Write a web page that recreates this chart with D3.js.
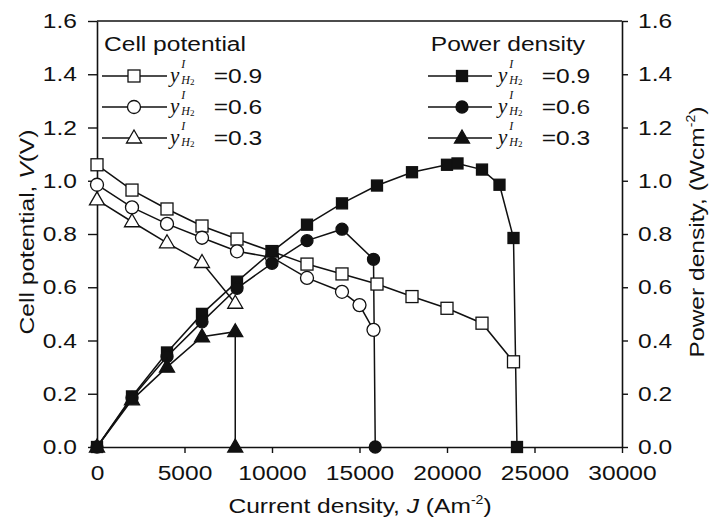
<!DOCTYPE html>
<html><head><meta charset="utf-8">
<script src="https://cdn.jsdelivr.net/npm/d3@7"></script>
<style>
body{margin:0;background:#fff}
svg{display:block}
.t{font-family:"Liberation Sans",Arial,Helvetica,sans-serif;font-size:21px;fill:#111;transform-box:fill-box;transform:scaleX(1.17)}
.tm{transform-origin:center}
.te{transform-origin:right center}
.ts{transform-origin:left center}
.serif{font-family:"Liberation Serif","Times New Roman",serif;font-style:italic;fill:#111}
</style></head><body>
<svg id="c" width="714" height="528"></svg>
<script>
// ---- data ----
const xTicks = [0, 5000, 10000, 15000, 20000, 25000, 30000];
const yTicks = [0, 0.2, 0.4, 0.6, 0.8, 1.0, 1.2, 1.4, 1.6];
const fractions = ["0.9", "0.6", "0.3"];

// Cell potential (V), left axis
const J_cp09 = [0, 2000, 4000, 6000, 8000, 10000, 12000, 14000, 16000, 18000, 20000, 22000, 23800];
const V_cp09 = [1.06, 0.965, 0.894, 0.83, 0.781, 0.734, 0.687, 0.65, 0.612, 0.565, 0.521, 0.465, 0.32];
const J_cp06 = [0, 2000, 4000, 6000, 8000, 10000, 12000, 14000, 15000, 15800];
const V_cp06 = [0.985, 0.90, 0.838, 0.786, 0.735, 0.712, 0.635, 0.583, 0.533, 0.44];
const J_cp03 = [0, 2000, 4000, 6000, 7900];
const V_cp03 = [0.928, 0.846, 0.767, 0.693, 0.54];

// Power density (W cm^-2), right axis
const J_pd09 = [0, 2000, 4000, 6000, 8000, 10000, 12000, 14000, 16000, 18000, 20000, 20600, 22000, 23000, 23800, 24000];
const P_pd09 = [0, 0.19, 0.355, 0.50, 0.621, 0.734, 0.835, 0.915, 0.982, 1.032, 1.06, 1.065, 1.042, 0.985, 0.785, 0];
const J_pd06 = [0, 2000, 4000, 6000, 8000, 10000, 12000, 14000, 15800, 15900];
const P_pd06 = [0, 0.185, 0.34, 0.47, 0.596, 0.69, 0.775, 0.818, 0.705, 0];
const J_pd03 = [0, 2000, 4000, 6000, 7900, 7900];
const P_pd03 = [0, 0.177, 0.30, 0.414, 0.433, 0];

// ---- chart ----
const svg = d3.select("#c");
const L = 97, R = 622, T = 21, B = 447;
const x = d3.scaleLinear().domain([0, 30000]).range([L, R]);
const yL = d3.scaleLinear().domain([0, 1.6]).range([B, T]);
const yR = d3.scaleLinear().domain([0, 1.6]).range([B, T]);
const fmt = d3.format(".1f");

// axes
const gL = svg.append("g").attr("transform", `translate(${L},0)`)
  .call(d3.axisLeft(yL).tickValues(yTicks).tickFormat(fmt).tickSize(9).tickPadding(11).tickSizeOuter(0));
gL.selectAll("text").attr("class", "t te");
const gR = svg.append("g").attr("transform", `translate(${R},0)`)
  .call(d3.axisRight(yR).tickValues(yTicks).tickFormat(fmt).tickSize(6).tickPadding(10).tickSizeOuter(0));
gR.selectAll("text").attr("class", "t ts");
const gB = svg.append("g").attr("transform", `translate(0,${B})`)
  .call(d3.axisBottom(x).tickValues(xTicks).tickFormat(d3.format("d")).tickSize(6).tickPadding(12).tickSizeOuter(0));
gB.selectAll("text").attr("class", "t tm");
[gL, gR, gB].forEach(g => {
  g.selectAll("line").attr("stroke", "#111").attr("stroke-width", 1.4);
  g.select(".domain").attr("stroke", "#111").attr("stroke-width", 1.6);
});
svg.append("line").attr("x1", L).attr("x2", R).attr("y1", T).attr("y2", T)
  .attr("stroke", "#111").attr("stroke-width", 1.6);

// axis titles
const xt = svg.append("text").attr("class", "t tm").attr("x", 360).attr("y", 513).attr("text-anchor", "middle");
xt.append("tspan").text("Current density, ");
xt.append("tspan").attr("font-style", "italic").text("J");
xt.append("tspan").text(" (Am");
xt.append("tspan").attr("font-size", "12px").attr("dy", -9).text("-2");
xt.append("tspan").attr("dy", 9).text(")");

const ylt = svg.append("g").attr("transform", "translate(34,232) rotate(-90)")
  .append("text").attr("class", "t tm").attr("text-anchor", "middle");
ylt.append("tspan").text("Cell potential, ");
ylt.append("tspan").attr("font-style", "italic").text("V");
ylt.append("tspan").text("(V)");

const yrt = svg.append("g").attr("transform", "translate(704,232) rotate(-90)")
  .append("text").attr("class", "t tm").attr("text-anchor", "middle");
yrt.append("tspan").text("Power density, (Wcm");
yrt.append("tspan").attr("font-size", "12px").attr("dy", -9).text("-2");
yrt.append("tspan").attr("dy", 9).text(")");

// markers
function drawMarker(g, shape, filled, cx, cy) {
  const fill = filled ? "#111" : "#fff";
  if (shape === "square") {
    const s = filled ? 11 : 12, h = s / 2;
    g.append("rect").attr("x", cx - h).attr("y", cy - h).attr("width", s).attr("height", s)
      .attr("fill", fill).attr("stroke", "#111").attr("stroke-width", 1.3);
  } else if (shape === "circle") {
    g.append("circle").attr("cx", cx).attr("cy", cy).attr("r", filled ? 6 : 6.5)
      .attr("fill", fill).attr("stroke", "#111").attr("stroke-width", 1.3);
  } else {
    g.append("path").attr("d", `M${cx},${cy - 8}L${cx + 7.5},${cy + 5}L${cx - 7.5},${cy + 5}Z`)
      .attr("fill", fill).attr("stroke", "#111").attr("stroke-width", 1.3);
  }
}

const series = [
  {J: J_cp09, v: V_cp09, y: yL, shape: "square", filled: false},
  {J: J_cp06, v: V_cp06, y: yL, shape: "circle", filled: false},
  {J: J_cp03, v: V_cp03, y: yL, shape: "triangle", filled: false},
  {J: J_pd09, v: P_pd09, y: yR, shape: "square", filled: true},
  {J: J_pd06, v: P_pd06, y: yR, shape: "circle", filled: true},
  {J: J_pd03, v: P_pd03, y: yR, shape: "triangle", filled: true}
];

const plot = svg.append("g");
series.forEach(s => {
  const pts = s.J.map((j, i) => [x(j), s.y(s.v[i])]);
  plot.append("path").attr("d", d3.line()(pts)).attr("fill", "none")
    .attr("stroke", "#111").attr("stroke-width", 1.5);
});
series.forEach(s => {
  const g = plot.append("g");
  s.J.forEach((j, i) => drawMarker(g, s.shape, s.filled, x(j), s.y(s.v[i])));
});

// legends
function legendLabel(g, xy, xeq, ry, frac) {
  const t = g.append("text").attr("class", "serif").attr("x", xy).attr("y", ry + 6).attr("font-size", "21px");
  t.append("tspan").text("y");
  t.append("tspan").attr("font-size", "12px").attr("dx", 2).attr("dy", -14).text("I");
  t.append("tspan").attr("font-size", "12px").attr("dx", -4).attr("dy", 16).text("H");
  t.append("tspan").attr("font-size", "9px").attr("font-style", "normal").attr("dy", 1).text("2");
  g.append("text").attr("class", "t tm").attr("x", xeq).attr("y", ry + 7).attr("text-anchor", "middle").text("=" + frac);
}
const rows = [76, 107, 138];
const shapes = ["square", "circle", "triangle"];
const lg = svg.append("g");
lg.append("text").attr("class", "t tm").attr("x", 175).attr("y", 51).attr("text-anchor", "middle").text("Cell potential");
lg.append("text").attr("class", "t tm").attr("x", 508).attr("y", 51).attr("text-anchor", "middle").text("Power density");
fractions.forEach((f, i) => {
  const r = rows[i];
  lg.append("line").attr("x1", 102).attr("x2", 167).attr("y1", r).attr("y2", r).attr("stroke", "#111").attr("stroke-width", 1.5);
  drawMarker(lg, shapes[i], false, 134, r);
  legendLabel(lg, 170, 238, r, f);
  lg.append("line").attr("x1", 428).attr("x2", 492).attr("y1", r).attr("y2", r).attr("stroke", "#111").attr("stroke-width", 1.5);
  drawMarker(lg, shapes[i], true, 462, r);
  legendLabel(lg, 498, 566, r, f);
});
</script>
</body></html>
